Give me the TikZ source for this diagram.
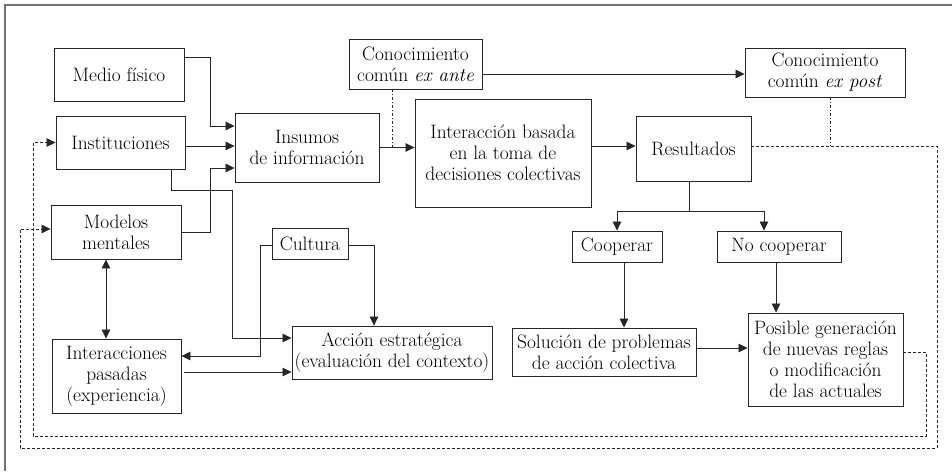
\documentclass[tikz,border=0pt]{standalone}
\usetikzlibrary{arrows.meta}
\begin{document}
\begin{tikzpicture}[x=1pt,y=-1pt,
  box/.style={draw=black!85, line width=0.9pt, align=center, inner xsep=2pt, inner ysep=1pt,
    font=\fontsize{19.4}{21}\selectfont, text=black},
  arr/.style={-{Triangle[length=9pt,width=8.5pt]}, line width=0.8pt, draw=black!85},
  arrtwo/.style={{Triangle[length=9pt,width=8.5pt]}-{Triangle[length=9pt,width=8.5pt]}, line width=0.8pt, draw=black!85},
  dsh/.style={dash pattern=on 3pt off 2pt},
  dd/.style={line width=0.8pt, draw=black!85, dash pattern=on 3pt off 2pt on 1pt off 2pt}]
\useasboundingbox (0,0) rectangle (952,471);
\draw[black!55, line width=1.5pt] (5,471) -- (5,5) -- (952,5);

\node[box, minimum width=130pt, minimum height=53pt] (medio) at (119,74.5) {Medio físico};
\node[box, minimum width=129pt, minimum height=53pt] (inst) at (120.5,142.5) {Instituciones};
\node[box, minimum width=130pt, minimum height=54pt] (modelos) at (116,232) {Modelos\\mentales};
\node[box, minimum width=144pt, minimum height=69pt] (insumos) at (307,147.5) {Insumos\\de información};
\node[box, minimum width=133pt, minimum height=50pt] (exante) at (415.5,64) {Conocimiento\\común \textit{ex ante}};
\node[box, minimum width=176pt, minimum height=108pt] (interac) at (503,153) {Interacción basada\\en la toma de\\decisiones colectivas};
\node[box, minimum width=115pt, minimum height=65pt] (resultados) at (693.5,148.5) {Resultados};
\node[box, minimum width=160pt, minimum height=49pt] (expost) at (825,72.5) {Conocimiento\\común \textit{ex post}};
\node[box, minimum width=90pt, minimum height=31pt] (cooperar) at (617,246.5) {Cooperar};
\node[box, minimum width=124pt, minimum height=31pt] (nocoop) at (779,246.5) {No cooperar};
\node[box, minimum width=184pt, minimum height=48pt] (solucion) at (604,352) {Solución de problemas\\de acción colectiva};
\node[box, minimum width=155pt, minimum height=93pt] (posible) at (825.5,359.5) {Posible generación\\de nuevas reglas\\o modificación\\de las actuales};
\node[box, minimum width=76pt, minimum height=31pt] (cultura) at (310,243.5) {Cultura};
\node[box, minimum width=200pt, minimum height=53pt] (accion) at (392,352.5) {Acción estratégica\\(evaluación del contexto)};
\node[box, minimum width=129pt, minimum height=74pt] (pasadas) at (116.5,376) {Interacciones\\pasadas\\(experiencia)};

% inputs to Insumos
\draw[arr] ([yshift=17.5pt]medio.east) -- ++(26pt,0) |- ([yshift=21.5pt]insumos.west);
\draw[arr] ([yshift=1.5pt]insumos.west -| inst.east) -- ([yshift=1.5pt]insumos.west);
\draw[arr] (modelos.east) -- ++(29pt,0) |- ([yshift=-20.5pt]insumos.west);
% Instituciones to Accion
\draw[arr] ([xshift=50.5pt]inst.south) -- ++(0,-21pt) -- ++(61pt,0) |- ([yshift=14.5pt]accion.west);
% Cultura
\draw[arr] ([yshift=-1.5pt]cultura.west) -- ++(-11pt,0) |- ([yshift=20pt]pasadas.east);
\draw[arr] ([yshift=-1.5pt]cultura.east) -| ([xshift=-18pt]accion.north);
% Pasadas to Accion
\draw[arr] ([xshift=3pt,yshift=4pt]pasadas.east) -- ([yshift=-19.5pt]accion.west);
% Modelos <-> Pasadas
\draw[arrtwo] ([xshift=-10pt]modelos.south) -- ([xshift=-10.5pt]pasadas.north);
% main chain
\draw[arr] (insumos.east) -- (interac.west |- insumos.east);
\draw[dd] ([xshift=-23.5pt]exante.south) -- ([xshift=-23.5pt]exante.south |- insumos.east);
\draw[arr] ([yshift=-10pt]exante.east) -- ([yshift=-10pt]exante.east -| expost.west);
\draw[arr] ([yshift=7pt]interac.east) -- ([yshift=7pt]interac.east -| resultados.west);
\draw[line width=0.8pt, draw=black!85] ([xshift=-4.5pt]resultados.south) -- ++(0,-30pt) coordinate (split);
\draw[arr] (split) -| (cooperar.north);
\draw[arr] (split) -| ([xshift=-15pt]nocoop.north);
\draw[arr] ([xshift=7pt]cooperar.south) -- ([xshift=7pt]cooperar.south |- solucion.north);
\draw[arr] ([xshift=-3pt]nocoop.south) -- ([xshift=-3pt]nocoop.south |- posible.north);
\draw[arr] ([yshift=4pt]solucion.east) -- ([yshift=4pt]solucion.east -| posible.west);
\draw[dd] ([xshift=5pt]expost.south) -- ([xshift=5pt,yshift=2.5pt]expost.south |- resultados.east);
% feedback loops
\draw[arr,dsh] ([yshift=2.5pt]resultados.east) -- ++(186pt,0) -- ++(0,-302pt) -- ++(-917pt,0) |- ([yshift=3pt]modelos.west);
\draw[arr,dsh] ([yshift=7.5pt]posible.east) -- ++(23pt,0) -- ++(0,-84pt) -- ++(-893pt,0) |- (inst.west);
\end{tikzpicture}
\end{document}
